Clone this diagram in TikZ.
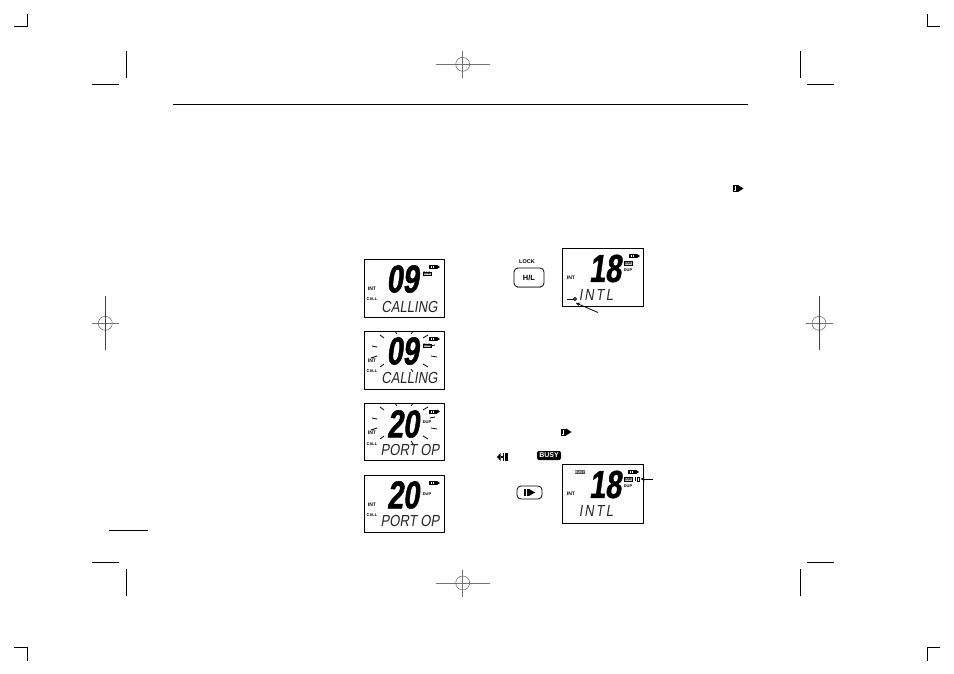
\documentclass[tikz,border=0pt]{standalone}
\usepackage{fontspec}
\usepackage{xcolor}
\setmainfont{Liberation Sans}
\newfontfamily\lcdbig{Liberation Sans}[FakeSlant=0.14,FakeStretch=0.74,FakeBold=1.2]
\newfontfamily\lcdrow{Liberation Sans}[FakeSlant=0.16,FakeStretch=0.82]
\newfontfamily\lcdwide{Liberation Sans}[FakeSlant=0.16,FakeStretch=0.82,LetterSpace=12]
\tikzset{
    crop/.style={line width=1pt, black},
    regmark/.style={line width=0.6pt, black!55},
    lcd/.style={line width=1pt, black},
    ray/.style={line width=0.8pt, black},
    digits/.style={inner sep=0pt, font=\lcdbig\fontsize{39}{39}\selectfont\bfseries},
    rowtext/.style={inner sep=0pt, font=\lcdrow\fontsize{16}{16}\selectfont, black!85},
    widetext/.style={inner sep=0pt, font=\lcdwide\fontsize{16}{16}\selectfont, black!85},
    tinytext/.style={inner sep=0pt, font=\fontsize{5}{5}\selectfont\bfseries},
    smalltext/.style={inner sep=0pt, font=\fontsize{4}{4}\selectfont\bfseries},
    badge/.style={inner sep=0.6pt, fill=black!70, text=white, font=\fontsize{3.5}{4}\selectfont\bfseries},
    tagbox/.style={inner sep=0.5pt, draw, line width=0.4pt, fill=black!25, font=\fontsize{3.5}{4}\selectfont\bfseries},
    keycap/.style={draw, line width=0.8pt, rounded corners=4pt, inner sep=0pt}
}
% receive mark: thin bars and a solid wedge
\newcommand{\rxicon}[2]{
    \draw[line width=0.5pt] (#1-5,#2-3) rectangle (#1-2.2,#2+3);
    \draw[line width=0.5pt] (#1-3.6,#2-2) -- (#1-3.6,#2+2);
    \fill (#1-1.2,#2-3.5) rectangle (#1,#2+3.5);
    \fill (#1,#2-3.5) -- (#1+5.5,#2) -- (#1,#2+3.5) -- cycle;
}
% battery mark in the display corner
\newcommand{\powicon}[2]{
    \fill (#1-5,#2-2) rectangle (#1+3,#2+2);
    \fill[white] (#1-3.2,#2-1) rectangle (#1-2.6,#2+1);
    \fill[white] (#1-0.6,#2-1) rectangle (#1,#2+1);
    \fill (#1+3,#2-2) -- (#1+6,#2) -- (#1+3,#2+2) -- cycle;
}
\begin{document}
\begin{tikzpicture}[x=1pt,y=-1pt]
    \useasboundingbox (0,0) rectangle (954,674);

    % Crop marks
    \draw[crop] (14,27) -- (27,27) -- (27,14);
    \draw[crop] (940,27) -- (927,27) -- (927,14);
    \draw[crop] (14,647) -- (27,647) -- (27,661);
    \draw[crop] (940,647) -- (927,647) -- (927,661);
    \draw[crop] (92,85) -- (119,85);
    \draw[crop] (126.5,51) -- (126.5,78);
    \draw[crop] (807,85) -- (834,85);
    \draw[crop] (800.5,51) -- (800.5,78);
    \draw[crop] (92,562.5) -- (119,562.5);
    \draw[crop] (126.5,569) -- (126.5,596);
    \draw[crop] (807,562.5) -- (834,562.5);
    \draw[crop] (800.5,569) -- (800.5,596);

    % Registration marks
    \foreach \cx/\cy in {462.7/64.3, 462.7/583} {
        \draw[regmark] (\cx,\cy) circle (7);
        \draw[regmark] (\cx-27,\cy) -- (\cx+27,\cy);
        \draw[regmark] (\cx,\cy-13.5) -- (\cx,\cy+13.5);
    }
    \foreach \cx/\cy in {105.3/323.3, 819/323.3} {
        \draw[regmark] (\cx,\cy) circle (7);
        \draw[regmark] (\cx-13.5,\cy) -- (\cx+13.5,\cy);
        \draw[line width=0.8pt, black!75] (\cx,\cy-27) -- (\cx,\cy+27);
    }

    % Page rules
    \draw[line width=1pt] (173,104.5) -- (748,104.5);
    \draw[line width=1pt] (109,530.5) -- (148,530.5);
    \rxicon{738}{188.5}

    % Left column displays
    \draw[lcd] (364.3,259) rectangle (444.3,317.7);
    \draw[lcd] (364.3,331) rectangle (444.3,389.3);
    \draw[lcd] (364.3,403.3) rectangle (444.3,460.7);
    \draw[lcd] (364.3,475) rectangle (444.3,532.7);

    \node[digits] (chone) at (402.5,279) {09};
    \node[digits] (chtwo) at (402.5,351) {09};
    \node[digits] (chthree) at (403,424) {20};
    \node[digits] (chfour) at (403,495) {20};

    \node[rowtext] (rowone) at (409.5,306.5) {CALLING};
    \node[rowtext] (rowtwo) at (409.5,378) {CALLING};
    \node[rowtext] (rowthree) at (410,449.5) {PORT OP};
    \node[rowtext] (rowfour) at (410,520.5) {PORT OP};

    \foreach \ty/\nm in {288.5/a, 360.5/b, 433/c, 504.5/d} {
        \node[tinytext] (int\nm) at (372,\ty) {INT};
        \node[smalltext] (call\nm) at (372,\ty+11) {CALL};
        \powicon{434}{\ty-21.5}
    }
    \node[tagbox] (tagone) at (427,273.5) {TAG};
    \node[tagbox] (tagtwo) at (427,345.5) {TAG};
    \node[smalltext] (dupthree) at (427,422) {DUP};
    \node[smalltext] (dupfour) at (427,494) {DUP};

    % Blink rays
    \foreach \off in {0,72} {
        \foreach \xa/\ya/\xb/\yb in {395/331/397/334, 413/331/411/334, 380/335/384/338,
            372/346/377/347, 371/358/377/356, 380/367/384/364, 423/338/428/335,
            430/346/435/345, 431/356/437/357, 423/364/428/367, 411/369/413/372} {
            \draw[ray] (\xa,\ya+\off) -- (\xb,\yb+\off);
        }
    }

    % Lock key and display
    \node[inner sep=0pt, font=\fontsize{5.5}{5.5}\selectfont\bfseries] (locklabel) at (527,262) {LOCK};
    \node[keycap, minimum width=30pt, minimum height=19pt, font=\fontsize{7.5}{7.5}\selectfont\bfseries] (hlkey) at (529,277.5) {H/L};
    \draw[line width=1.4pt, black!50] (517,287.6) -- (541,287.6);

    \draw[lcd] (562.3,248.3) rectangle (643.7,306);
    \node[digits] (chlock) at (605,268.5) {18};
    \node[widetext] (rowlock) at (596,295) {INTL};
    \node[tinytext] (intlock) at (571,278) {INT};
    \powicon{634}{256}
    \node[tagbox] (taglock) at (628,263) {TAG};
    \node[smalltext] (duplock) at (628,270) {DUP};

    \coordinate (keymark) at (575,299);
    \draw[line width=1pt] (567,299) -- (keymark);
    \draw[line width=0.8pt, fill=white] (keymark) circle (1.5);
    \coordinate (lockend) at (598,312.5);
    \coordinate (locktip) at (576,303);
    \draw[line width=0.8pt, -stealth] (lockend) -- (locktip);

    % Scan marks
    \rxicon{566}{432}
    \fill (497,457) -- (500.5,453) -- (500.5,461) -- cycle;
    \fill (500.5,456) rectangle (502.5,458);
    \fill (502.5,453) rectangle (504,461);
    \fill (505,453) rectangle (508,461);
    \node[inner sep=0.8pt, fill=black, text=white, rounded corners=2pt, minimum width=24pt, minimum height=9pt,
        font=\fontsize{7}{7}\selectfont\bfseries] (busytag) at (549,455.5) {BUSY};

    % Scan key and display
    \node[keycap, minimum width=25pt, minimum height=13pt] (scankey) at (529.5,492.5) {};
    \fill (523.5,489) rectangle (525.5,496);
    \fill (526.5,489) rectangle (529,496);
    \fill (529,489) -- (535,492.5) -- (529,496) -- cycle;

    \draw[lcd] (562.3,464) rectangle (643.7,523.3);
    \node[digits] (chscan) at (605,484.5) {18};
    \node[widetext] (rowscan) at (596,510.5) {INTL};
    \node[tinytext] (intscan) at (571,493.5) {INT};
    \node[badge] (busyscan) at (580,472) {BUSY};
    \powicon{633}{472}
    \node[tagbox] (tagscan) at (628,479) {TAG};
    \node[smalltext] (dupscan) at (628,486) {DUP};
    \coordinate (speaker) at (636,479);
    \fill (speaker) ++(-1.5,-2) rectangle ++(1.5,4);
    \draw[line width=0.6pt] (speaker) ++(1,-2) rectangle ++(2.5,4);
    \coordinate (scanend) at (653,479);
    \coordinate (scantip) at (640.5,479);
    \draw[line width=0.8pt, -stealth] (scanend) -- (scantip);
\end{tikzpicture}
\end{document}
